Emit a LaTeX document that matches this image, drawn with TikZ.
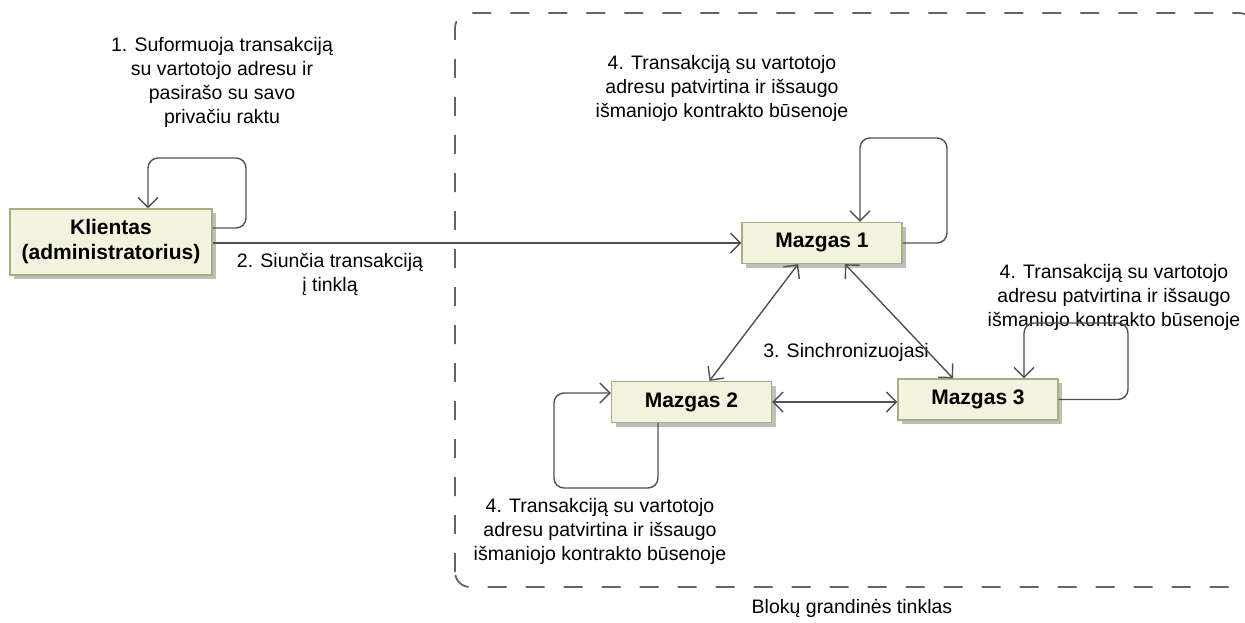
\documentclass[tikz,border=0pt]{standalone}
\usepackage{fontspec}
\setmainfont{Liberation Sans}
\usetikzlibrary{arrows.meta,shadows}
\definecolor{boxfill}{RGB}{242,242,222}
\definecolor{boxline}{RGB}{172,172,128}
\definecolor{shadowgray}{RGB}{190,190,190}
\definecolor{linegray}{RGB}{80,80,80}
\definecolor{framegray}{RGB}{100,100,100}
\begin{document}
\begin{tikzpicture}[x=1pt,y=-1pt,
  boxnode/.style={draw=boxline, line width=1.3pt, fill=boxfill,
    minimum width=160pt, minimum height=41pt, inner sep=2pt, align=center,
    font=\fontsize{21}{25}\selectfont\bfseries,
    drop shadow={shadow xshift=4pt, shadow yshift=-4pt, fill=shadowgray, opacity=1}},
  lbl/.style={inner sep=0pt, align=center, font=\fontsize{19.5}{24}\selectfont},
  conn/.style={draw=linegray, line width=1.4pt},
  tip/.style={conn, -{Straight Barb[length=10pt,width=20pt,line width=1.4pt]}},
  dtip/.style={conn, {Straight Barb[length=10pt,width=20pt,line width=1.4pt]}-{Straight Barb[length=10pt,width=20pt,line width=1.4pt]}},
  netframe/.style={draw=framegray, line width=1.8pt, dash pattern=on 19pt off 19pt, rounded corners=15pt}]
\useasboundingbox (0,0) rectangle (1245,623);

% network boundary
\draw[netframe] (455,587) -- (455,13) -- (1254,13) -- (1254,587) -- cycle;

% participants
\node[boxnode, minimum width=202pt, minimum height=66pt] (kl) at (111,242) {Klientas\\(administratorius)};
\node[boxnode] (m1) at (822,243) {Mazgas 1};
\node[boxnode] (m2) at (691.5,402) {Mazgas 2};
\node[boxnode] (m3) at (978,399.5) {Mazgas 3};

% labels
\node[lbl] (l1) at (222,82) {1. Suformuoja transakciją\\su vartotojo adresu ir\\pasirašo su savo\\privačiu raktu};
\node[lbl] (l2) at (330,274) {2. Siunčia transakciją\\į tinklą};
\node[lbl] (l3) at (846,352) {3. Sinchronizuojasi};
\node[lbl] (l4a) at (722,88) {4. Transakciją su vartotojo\\adresu patvirtina ir išsaugo\\išmaniojo kontrakto būsenoje};
\node[lbl] (l4b) at (1114,297) {4. Transakciją su vartotojo\\adresu patvirtina ir išsaugo\\išmaniojo kontrakto būsenoje};
\node[lbl] (l4c) at (600,531) {4. Transakciją su vartotojo\\adresu patvirtina ir išsaugo\\išmaniojo kontrakto būsenoje};
\node[lbl] (lnet) at (852,608) {Blokų grandinės tinklas};

% loop corners
\coordinate (kA) at (246,228);
\coordinate (kB) at (148,158);
\coordinate (mA) at (947,138);
\coordinate (mB) at (860,138);
\coordinate (nA) at (658,488);
\coordinate (nB) at (554,393);
\coordinate (pA) at (1128,323);
\coordinate (pB) at (1024,323);

% self loops
\draw[tip, rounded corners=10pt] (kl.east |- kA) -- (kA) -- (kA |- kB) -- (kB) -- (kB |- kl.north);
\draw[tip, rounded corners=10pt] (m1.east) -- (m1.east -| mA) -- (mA) -- (mB) -- (mB |- m1.north);
\draw[tip, rounded corners=10pt] (nA |- m2.south) -- (nA) -- (nA -| nB) -- (nB) -- (nB -| m2.west);
\draw[tip, rounded corners=10pt] (m3.east) -- (m3.east -| pA) -- (pA) -- (pB) -- (pB |- m3.north);

% sending and synchronisation
\draw[tip] (kl.east |- m1.west) -- (m1.west);
\draw[dtip] ([xshift=-24pt]m1.south) -- ([xshift=18pt]m2.north);
\draw[dtip] ([xshift=23pt]m1.south) -- ([xshift=-25pt]m3.north);
\draw[dtip] (m2.east) -- (m2.east -| m3.west);
\end{tikzpicture}
\end{document}
